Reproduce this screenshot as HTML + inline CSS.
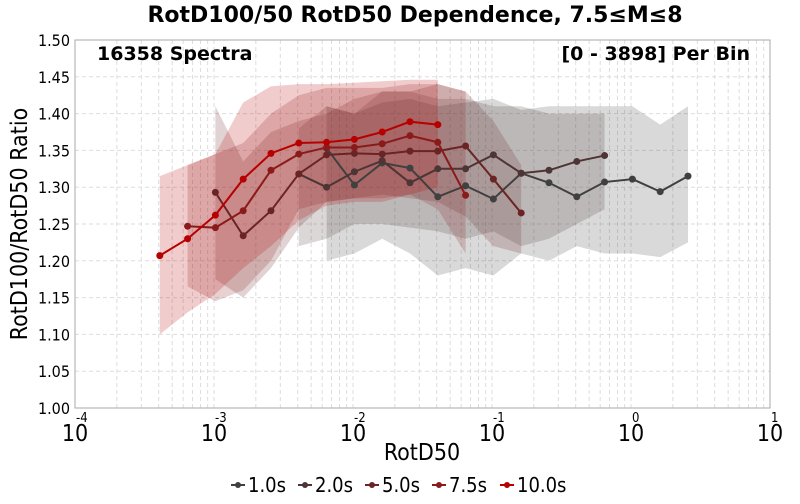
<!DOCTYPE html>
<html><head><meta charset="utf-8"><style>
body{margin:0;background:#fff;width:800px;height:500px;overflow:hidden;font-family:"DejaVu Sans","Liberation Sans",sans-serif}
.cond{font-family:"DejaVu Sans Condensed","DejaVu Sans",sans-serif;font-stretch:condensed}
</style></head><body>
<svg id="chart" width="800" height="500" xmlns="http://www.w3.org/2000/svg">
<text x="415" y="22" text-anchor="middle" font-size="22" font-weight="bold" font-family="DejaVu Sans, sans-serif">RotD100/50 RotD50 Dependence, 7.5≤M≤8</text>
<g id="grid"></g>
<g id="bands"></g>
<g id="lines"></g>
<rect x="75" y="40" width="695" height="368" fill="none" stroke="#aaa" stroke-width="1"/>
<g id="axes" class="cond"></g>
<text x="97" y="60" font-size="19" font-weight="bold">16358 Spectra</text>
<text x="750" y="60" text-anchor="end" font-size="19" font-weight="bold">[0 - 3898] Per Bin</text>
<text class="cond" x="422" y="460" text-anchor="middle" font-size="23">RotD50</text>
<text class="cond" transform="translate(27,224) rotate(-90)" text-anchor="middle" font-size="23">RotD100/RotD50 Ratio</text>
<g id="legend" class="cond"></g>
</svg>
<script>
const xLogs=[-3.39,-3.19,-2.99,-2.79,-2.59,-2.39,-2.19,-1.99,-1.79,-1.59,-1.39,-1.19,-0.99,-0.79,-0.59,-0.39,-0.19,0.01,0.21,0.41];
const seriesNames=["1.0s","2.0s","5.0s","7.5s","10.0s"];
const seriesColors=["#404040","#4d3535","#6b2424","#8b1a1a","#b80000"];
const seriesStart=[6,5,2,1,0];
const s1=[1.353,1.303,1.333,1.326,1.287,1.302,1.284,1.319,1.306,1.287,1.307,1.311,1.294,1.315];
const s2=[1.318,1.300,1.321,1.336,1.306,1.325,1.325,1.344,1.319,1.323,1.335,1.343];
const s5=[1.293,1.234,1.268,1.318,1.344,1.346,1.345,1.349,1.349,1.356,1.311,1.265];
const s75=[1.247,1.245,1.268,1.323,1.345,1.354,1.354,1.359,1.370,1.361,1.289];
const s10=[1.207,1.230,1.262,1.311,1.346,1.360,1.361,1.365,1.375,1.389,1.385];
const u1=[1.41,1.40,1.415,1.42,1.41,1.415,1.42,1.405,1.41,1.41,1.41,1.41,1.385,1.41];
const l1=[1.20,1.21,1.23,1.21,1.18,1.19,1.18,1.21,1.20,1.22,1.21,1.21,1.205,1.225];
const u2=[1.38,1.41,1.40,1.43,1.43,1.42,1.42,1.41,1.41,1.40,1.40,1.40];
const l2=[1.22,1.23,1.25,1.25,1.245,1.24,1.23,1.24,1.22,1.23,1.25,1.27];
const u5=[1.41,1.335,1.375,1.39,1.40,1.42,1.43,1.43,1.44,1.43,1.39,1.33];
const l5=[1.175,1.15,1.19,1.245,1.28,1.285,1.29,1.285,1.28,1.26,1.22,1.21];
const u75=[1.33,1.345,1.36,1.40,1.425,1.435,1.435,1.435,1.44,1.44,1.43];
const l75=[1.165,1.145,1.16,1.20,1.27,1.28,1.285,1.285,1.29,1.27,1.21];
const u10=[1.315,1.33,1.345,1.415,1.437,1.44,1.44,1.442,1.444,1.446,1.446];
const l10=[1.10,1.13,1.155,1.19,1.22,1.255,1.275,1.28,1.28,1.29,1.30];
const yTicks=["1.00","1.05","1.10","1.15","1.20","1.25","1.30","1.35","1.40","1.45","1.50"];
const xTickExp=["-4","-3","-2","-1","0","1"];

const vals=[s1,s2,s5,s75,s10],ups=[u1,u2,u5,u75,u10],lows=[l1,l2,l5,l75,l10];
const L=75,R=770,T=40,B=408;
const X=lx=>L+(lx+4)/5*(R-L);
const Y=v=>B-(v-1.0)/0.5*(B-T);
const NS="http://www.w3.org/2000/svg";
function mk(tag,attrs,parent){const e=document.createElementNS(NS,tag);for(const k in attrs)e.setAttribute(k,attrs[k]);parent.appendChild(e);return e;}
const grid=document.getElementById('grid');
for(let d=-4;d<1;d++){for(let m=1;m<10;m++){const x=X(d+Math.log10(m));
 const g=mk('line',{x1:x,x2:x,y1:T,y2:B,stroke:'#ddd','stroke-dasharray':'4,3','stroke-width':1},grid);
 
 }}
yTicks.forEach(t=>{const y=Y(parseFloat(t));
 const g=mk('line',{x1:L,x2:R,y1:y,y2:y,stroke:'#ddd','stroke-dasharray':'4,3','stroke-width':1},grid);
 
 });
const axes=document.getElementById('axes');
yTicks.forEach(t=>{const tx=mk('text',{x:L-5,y:Y(parseFloat(t))+6,'text-anchor':'end','font-size':16},axes);tx.textContent=t;
 
 });
xTickExp.forEach(e=>{const x=X(parseFloat(e));
 const tx=mk('text',{x:x,y:441,'text-anchor':'middle','font-size':23},axes);tx.textContent='10';
 
 
 const ex=mk('text',{x:x+1,y:422,'text-anchor':'start','font-size':13},axes);ex.textContent=e;
 
 });
const bands=document.getElementById('bands'),lines=document.getElementById('lines');
vals.forEach((v,i)=>{const st=seriesStart[i];
 let pts=ups[i].map((u,j)=>X(xLogs[st+j])+','+Y(u));
 pts=pts.concat(lows[i].map((l,j)=>X(xLogs[st+j])+','+Y(l)).reverse());
 const p=mk('polygon',{points:pts.join(' '),fill:seriesColors[i],'fill-opacity':0.2},bands);
 
 });
vals.forEach((v,i)=>{const st=seriesStart[i];
 const pl=mk('polyline',{points:v.map((y,j)=>X(xLogs[st+j])+','+Y(y)).join(' '),fill:'none',stroke:seriesColors[i],'stroke-width':2},lines);
 
 
 v.forEach((y,j)=>{const c=mk('circle',{cx:X(xLogs[st+j]),cy:Y(y),r:3.5,fill:seriesColors[i]},lines);
  
  });});
const leg=document.getElementById('legend');
const lx=[231,298,365,432,500];
seriesNames.forEach((n,i)=>{const x=lx[i];
 const g=mk('g',{},leg);
 
 
 mk('line',{x1:x,x2:x+14,y1:485,y2:485,stroke:seriesColors[i],'stroke-width':2},g);
 mk('circle',{cx:x+7,cy:485,r:3,fill:seriesColors[i]},g);
 const t=mk('text',{x:x+17,y:492,'font-size':20},g);t.textContent=n;});
</script>
</body></html>
